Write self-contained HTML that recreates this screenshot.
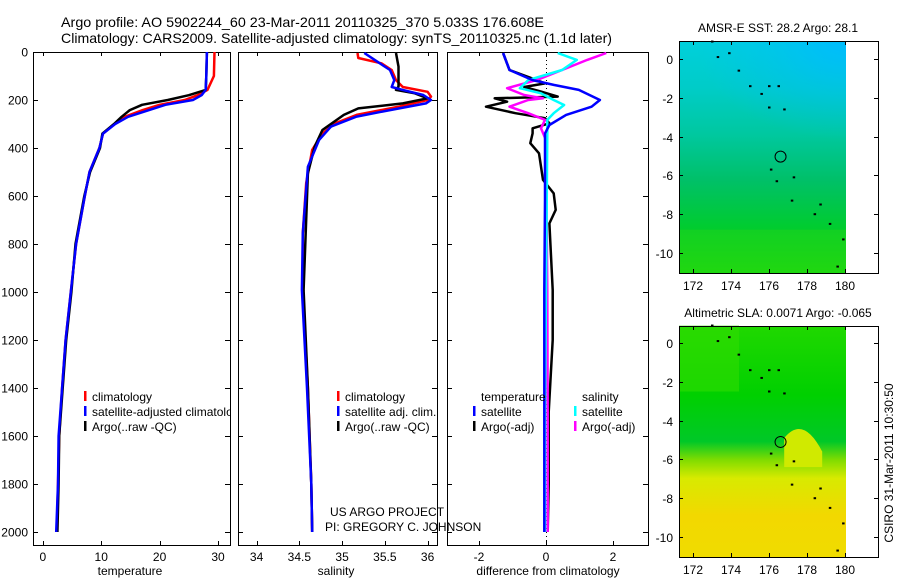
<!DOCTYPE html>
<html><head><meta charset="utf-8">
<style>
html,body{margin:0;padding:0;background:#fff;}
svg{display:block;font-family:"Liberation Sans",Arial,sans-serif;}
</style></head>
<body>
<svg id="fig" width="900" height="580" viewBox="0 0 900 580" xmlns="http://www.w3.org/2000/svg">
  <defs>
    <linearGradient id="sstV" x1="0" y1="0" x2="0" y2="1">
      <stop offset="0" stop-color="#00d0dc"/>
      <stop offset="0.2" stop-color="#00ccc8"/>
      <stop offset="0.4" stop-color="#00c8a0"/>
      <stop offset="0.6" stop-color="#00c068"/>
      <stop offset="0.8" stop-color="#00cc30"/>
      <stop offset="1" stop-color="#18d810"/>
    </linearGradient>
    <radialGradient id="sstH" cx="1" cy="0" r="0.9">
      <stop offset="0" stop-color="#00bbff" stop-opacity="0.95"/>
      <stop offset="0.5" stop-color="#00bbff" stop-opacity="0.4"/>
      <stop offset="1" stop-color="#00bbff" stop-opacity="0"/>
    </radialGradient>
    <linearGradient id="slaV" x1="0" y1="0" x2="0" y2="1">
      <stop offset="0" stop-color="#20d800"/>
      <stop offset="0.3" stop-color="#00d000"/>
      <stop offset="0.5" stop-color="#00c828"/>
      <stop offset="0.58" stop-color="#80dc00"/>
      <stop offset="0.66" stop-color="#d8ea00"/>
      <stop offset="0.82" stop-color="#f2d800"/>
      <stop offset="1" stop-color="#f0dc00"/>
    </linearGradient>
  </defs>
  <g id="titles" font-size="14" fill="#000">
    <text x="61" y="27" textLength="483" lengthAdjust="spacingAndGlyphs">Argo profile: AO 5902244_60 23-Mar-2011 20110325_370 5.033S 176.608E</text>
    <text x="61" y="43" textLength="551" lengthAdjust="spacingAndGlyphs">Climatology: CARS2009. Satellite-adjusted climatology: synTS_20110325.nc (1.1d later)</text>
  </g>
  <g id="panels"></g>
  <g id="maps"></g>
  <text x="330" y="516" font-size="12">US ARGO PROJECT</text>
  <text x="325" y="531" font-size="12">PI: GREGORY C. JOHNSON</text>
  <text transform="translate(893,463) rotate(-90)" text-anchor="middle" font-size="12">CSIRO 31-Mar-2011 10:30:50</text>
</svg>
<script>
// ---------- data ----------
const depthTicks = [0,200,400,600,800,1000,1200,1400,1600,1800,2000];
const tempTicks = [0,10,20,30];
const salTicks = [34,34.5,35,35.5,36];
const salTickLabels = ["34","34.5","35","35.5","36"];
const diffTicks = [-2,0,2];
const diffTickLabels = ["-2","0","2"];

const tempClimDepth = [0,100,158,180,200,220,242,270,300,340,400,500,600,800,1000,1200,1400,1600,1800,2000];
const tempClim      = [29.4,29.3,28.2,26.5,24.3,20,17.1,14.0,12.3,10.3,9.7,8.0,7.2,5.7,4.8,3.9,3.3,2.8,2.6,2.4];
const tempSat       = [28.1,28.0,27.9,27.2,25.7,21,18.2,14.6,12.4,10.3,9.7,8.0,7.2,5.7,4.8,3.9,3.3,2.7,2.6,2.3];
const tempArgo      = [28.1,28.0,27.9,25.0,21.4,17,14.9,13.5,12.2,10.2,9.8,8.1,7.1,5.6,4.9,4.0,3.4,2.8,2.7,2.5];

const salClimDepth = [4,25,47,75,117,146,166,186,200,228,262,297,339,408,546,755,992,1400,1800,2000];
const salClim      = [35.18,35.19,35.46,35.58,35.63,35.71,36.0,36.04,36.0,35.66,35.17,34.92,34.77,34.65,34.58,34.54,34.54,34.6,34.64,34.65];
const salSatDepth  = [4,40,75,117,146,158,179,200,214,242,269,311,367,478,755,992,1400,1800,2000];
const salSat       = [35.26,35.41,35.56,35.61,35.58,35.71,35.95,36.04,35.98,35.56,35.17,34.87,34.73,34.6,34.54,34.53,34.59,34.64,34.65];
const salArgoDepth = [4,61,144,158,172,193,214,235,262,325,394,505,992,1400,1800,2000];
const salArgo      = [35.63,35.66,35.66,35.63,35.85,36.0,35.71,35.19,35.02,34.77,34.68,34.6,34.55,34.6,34.64,34.65];

const dTSatDepth = [4,75,117,137,158,200,228,262,304,339,616,992,1400,1800,2000];
const dTSat      = [-1.28,-1.09,-0.4,0.23,0.98,1.61,1.36,0.6,0.1,-0.03,-0.03,-0.05,-0.05,-0.05,-0.05];
const dTArgoDepth = [4,75,117,131,146,165,186,193,207,228,255,276,297,318,339,380,422,533,589,658,714,992,1200,1500,1800,2000];
const dTArgo      = [-1.28,-1.09,-0.28,-0.03,-0.65,-0.15,0.35,-1.53,-1.16,-1.79,-0.91,-0.03,0.1,-0.4,-0.4,-0.47,-0.21,-0.09,0.23,0.29,0.1,0.2,0.2,0.08,0.08,0.05];
const dSSatDepth = [4,33,75,117,151,172,200,221,255,283,339,992,1500,2000];
const dSSat      = [0.35,0.92,0.48,-0.53,-0.78,-0.15,0.23,0.54,0.23,0.04,0.04,0.0,-0.03,-0.03];
const dSArgoDepth = [4,33,75,117,151,179,193,200,228,255,283,318,367,992,1500,2000];
const dSArgo      = [1.8,1.23,0.48,-0.28,-1.16,-0.65,-0.09,-0.53,-1.09,-0.53,-0.03,-0.15,0.0,0.04,0.05,0.05];

const latTicks = [0,-2,-4,-6,-8,-10];
const lonTicks = [172,174,176,178,180];
const islandLons = [173.3,173.9,174.4,175.0,175.6,176.0,176.5,176.0,176.8,176.1,176.4,177.3,177.2,178.4,178.7,179.2,179.9,179.6,173.0];
const islandLats = [0.1,0.3,-0.6,-1.4,-1.8,-1.4,-1.4,-2.5,-2.6,-5.7,-6.3,-6.1,-7.3,-8.0,-7.5,-8.5,-9.3,-10.7,0.9];
const floatLon = 176.608;
const floatLat = -5.033;

// ---------- helpers ----------
const NS = "http://www.w3.org/2000/svg";
function mk(tag, attrs, parent){
  const e = document.createElementNS(NS, tag);
  for (const k in attrs) e.setAttribute(k, attrs[k]);
  parent.appendChild(e);
  return e;
}
const Y0 = 52, PXM = 0.24;
const yD = d => Y0 + d*PXM;
const PANEL_TOP = 52, PANEL_BOT = 545;

const panels = document.getElementById('panels');
function frame(x0, x1, name){
  const g = mk('g', {}, panels);
  
  
  const r = mk('rect', {x:x0+0.5, y:PANEL_TOP+0.5, width:x1-x0, height:PANEL_BOT-PANEL_TOP, fill:'#fff', stroke:'#000', 'stroke-width':1}, g);
  
  
  depthTicks.forEach(d => {
    const y = Math.round(yD(d))+0.5;
    const t1 = mk('line', {x1:x0, x2:x0+5, y1:y, y2:y, stroke:'#000'}, g);
    
    
    const t2 = mk('line', {x1:x1-5, x2:x1+1, y1:y, y2:y, stroke:'#000'}, g);
    
    
  });
  return g;
}
function xTicks(g, vals, labels, xf){
  vals.forEach((v,i) => {
    const x = Math.round(xf(v))+0.5;
    const t = mk('line', {x1:x, x2:x, y1:PANEL_BOT-4, y2:PANEL_BOT+1, stroke:'#000'}, g);
    
    
    const t2 = mk('line', {x1:x, x2:x, y1:PANEL_TOP, y2:PANEL_TOP+4, stroke:'#000'}, g);
    
    
    const l = mk('text', {x:xf(v), y:561, 'text-anchor':'middle', 'font-size':12}, g);
    l.textContent = labels[i];
    
    
  });
}
function line(g, xs, ds, xf, color, w, name){
  const pts = xs.map((v,i) => xf(v).toFixed(1)+','+yD(ds[i]).toFixed(1)).join(' ');
  const p = mk('polyline', {points:pts, fill:'none', stroke:color, 'stroke-width':w, 'stroke-linejoin':'round'}, g);
  
  
}
function legendRow(g, x, y, color, label, name){
  if (color){
    const b = mk('rect', {x:x, y:y-6, width:2.5, height:10, fill:color}, g);
    
    
  }
  const t = mk('text', {x:x+8, y:y+4, 'font-size':12}, g);
  t.textContent = label;
  
  
}

// depth axis labels
const yLab = mk('g', {}, panels);


depthTicks.forEach(d => {
  const t = mk('text', {x:28, y:yD(d)+4.5, 'text-anchor':'end', 'font-size':12}, yLab);
  t.textContent = String(d);
  
  
});

// ---- panel 1 temperature ----
const xT = v => 42.8 + v*5.84;
const p1 = frame(33, 230, 'temperature-panel');
line(p1, tempClim, tempClimDepth, xT, '#f00', 2.5, 'temperature-climatology-line');
line(p1, tempArgo, tempClimDepth, xT, '#000', 2.5, 'temperature-argo-line');
line(p1, tempSat, tempClimDepth, xT, '#00f', 2.5, 'temperature-satellite-line');
xTicks(p1, tempTicks, tempTicks.map(String), xT);
const tl1 = mk('text', {x:130, y:575, 'text-anchor':'middle', 'font-size':12}, p1);
tl1.textContent = 'temperature';


const lg1 = mk('g', {}, p1);


const clip1 = mk('clipPath', {id:'clipP1'}, lg1);
mk('rect', {x:33, y:380, width:197, height:60}, clip1);
const lg1i = mk('g', {'clip-path':'url(#clipP1)'}, lg1);
legendRow(lg1i, 84, 397, '#f00', 'climatology', 'legend-climatology');
legendRow(lg1i, 84, 412, '#00f', 'satellite-adjusted climatology', 'legend-satellite-adjusted');
legendRow(lg1i, 84, 427, '#000', 'Argo(..raw -QC)', 'legend-argo');

// ---- panel 2 salinity ----
const xS = v => 256.6 + (v-34)*85.5;
const p2 = frame(238, 437, 'salinity-panel');
line(p2, salClim, salClimDepth, xS, '#f00', 2.5, 'salinity-climatology-line');
line(p2, salArgo, salArgoDepth, xS, '#000', 2.5, 'salinity-argo-line');
line(p2, salSat, salSatDepth, xS, '#00f', 2.5, 'salinity-satellite-line');
xTicks(p2, salTicks, salTickLabels, xS);
const tl2 = mk('text', {x:336, y:575, 'text-anchor':'middle', 'font-size':12}, p2);
tl2.textContent = 'salinity';


const lg2 = mk('g', {}, p2);


legendRow(lg2, 337, 397, '#f00', 'climatology', 'legend-climatology');
legendRow(lg2, 337, 412, '#00f', 'satellite adj. clim.', 'legend-satellite-adjusted');
legendRow(lg2, 337, 427, '#000', 'Argo(..raw -QC)', 'legend-argo');

// ---- panel 3 differences ----
const xDf = v => 546 + v*33.5;
const p3 = frame(447, 648, 'difference-panel');
const z = mk('line', {x1:546.5, x2:546.5, y1:PANEL_TOP, y2:PANEL_BOT, stroke:'#000', 'stroke-width':1, 'stroke-dasharray':'1,3'}, p3);


line(p3, dTArgo, dTArgoDepth, xDf, '#000', 2.5, 'temperature-argo-diff-line');
line(p3, dSArgo, dSArgoDepth, xDf, '#f0f', 2.5, 'salinity-argo-diff-line');
line(p3, dSSat, dSSatDepth, xDf, '#0ff', 2.5, 'salinity-satellite-diff-line');
line(p3, dTSat, dTSatDepth, xDf, '#00f', 2.5, 'temperature-satellite-diff-line');
xTicks(p3, diffTicks, diffTickLabels, xDf);
const tl3 = mk('text', {x:548, y:575, 'text-anchor':'middle', 'font-size':12}, p3);
tl3.textContent = 'difference from climatology';


const lg3 = mk('g', {}, p3);


legendRow(lg3, 473, 397, null, 'temperature', 'legend-temperature-header');
legendRow(lg3, 473, 412, '#00f', 'satellite', 'legend-temperature-satellite');
legendRow(lg3, 473, 427, '#000', 'Argo(-adj)', 'legend-temperature-argo');
legendRow(lg3, 574, 397, null, 'salinity', 'legend-salinity-header');
legendRow(lg3, 574, 412, '#0ff', 'satellite', 'legend-salinity-satellite');
legendRow(lg3, 574, 427, '#f0f', 'Argo(-adj)', 'legend-salinity-argo');

// ---------- maps ----------
const maps = document.getElementById('maps');
const MX0 = 679, MX1 = 878, IMGX1 = 846;
const lonX = lon => 693 + (lon-172)*19;
function drawMap(top, bot, lat0y, fillId, title, name, extra){
  const latY = lat => lat0y - lat*19.4;
  const g = mk('g', {}, maps);
  
  
  const t = mk('text', {x:778, y:top-9, 'text-anchor':'middle', 'font-size':12}, g);
  t.textContent = title;
  
  
  const img = mk('rect', {x:MX0, y:top, width:IMGX1-MX0, height:bot-top, fill:'url(#'+fillId+')'}, g);
  
  
  extra(g, latY);
  const fr = mk('rect', {x:MX0+0.5, y:top+0.5, width:MX1-MX0, height:bot-top, fill:'none', stroke:'#000'}, g);
  
  
  latTicks.forEach(lat => {
    const y = Math.round(latY(lat))+0.5;
    const a = mk('line', {x1:MX0, x2:MX0+4, y1:y, y2:y, stroke:'#000'}, g);
    
    
    const b = mk('line', {x1:MX1-4, x2:MX1+1, y1:y, y2:y, stroke:'#000'}, g);
    
    
    const l = mk('text', {x:673, y:y+4.5, 'text-anchor':'end', 'font-size':12}, g);
    l.textContent = String(lat);
    
    
  });
  lonTicks.forEach(lon => {
    const x = Math.round(lonX(lon))+0.5;
    const a = mk('line', {x1:x, x2:x, y1:bot-4, y2:bot+1, stroke:'#000'}, g);
    
    
    const b = mk('line', {x1:x, x2:x, y1:top, y2:top+4, stroke:'#000'}, g);
    
    
    const l = mk('text', {x:lonX(lon), y:bot+17, 'text-anchor':'middle', 'font-size':12}, g);
    l.textContent = String(lon);
    
    
  });
  islandLons.forEach((lon,i) => {
    const d = mk('rect', {x:lonX(lon)-1, y:latY(islandLats[i])-1, width:2.5, height:2, fill:'#000'}, g);
    
    
  });
  return latY;
}
const latY1 = drawMap(41, 273, 59, 'sstV', 'AMSR-E SST: 28.2 Argo: 28.1', 'sst-map', (g, latY) => {
  const o = mk('rect', {x:MX0, y:41, width:IMGX1-MX0, height:110, fill:'url(#sstH)'}, g);
  
  
  const p = mk('rect', {x:MX0, y:latY(-8.8), width:IMGX1-MX0, height:latY(-11)-latY(-8.8), fill:'#30d810', opacity:0.35}, g);
  
  
});
const c1m = mk('circle', {cx:lonX(floatLon), cy:latY1(floatLat), r:5.5, fill:'none', stroke:'#000'}, maps);



const latY2 = drawMap(326, 557, 343, 'slaV', 'Altimetric SLA: 0.0071 Argo: -0.065', 'sla-map', (g, latY) => {
  const a = mk('rect', {x:MX0, y:latY(0.9), width:60, height:latY(-2.5)-latY(0.9), fill:'#30dc00', opacity:0.6}, g);
  
  
  const b = mk('path', {d:'M'+lonX(176.8)+','+latY(-4.9)+' Q'+lonX(177.8)+','+latY(-3.7)+' '+lonX(178.8)+','+latY(-5.6)+' L'+lonX(178.8)+','+latY(-6.4)+' L'+lonX(176.8)+','+latY(-6.4)+' Z', fill:'#d0ea00'}, g);
  
  
});
const c2m = mk('circle', {cx:lonX(floatLon), cy:latY2(-5.1), r:5.5, fill:'none', stroke:'#000'}, maps);


</script>
</body></html>
